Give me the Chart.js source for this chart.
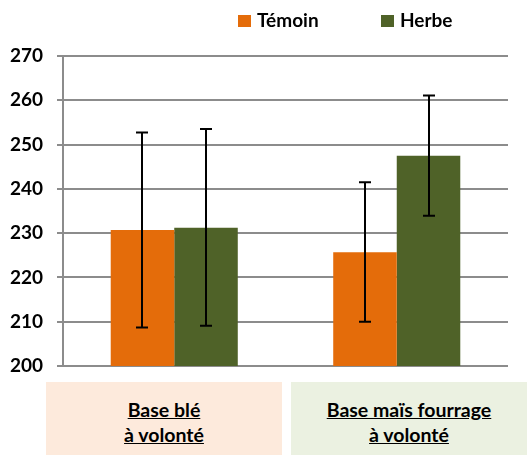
<!DOCTYPE html>
<html>
<head>
<meta charset="utf-8">
<script src="https://cdn.jsdelivr.net/npm/chart.js@4"></script>
<style>
  html, body { margin: 0; padding: 0; background: #fff; }
  #wrap { position: relative; width: 527px; height: 455px; overflow: hidden; }
  .box {
    position: absolute; top: 382px; height: 80px;
    font-family: Lato, sans-serif; font-weight: bold; font-size: 19.5px;
    text-align: center; text-decoration: underline; line-height: 25px;
    padding-top: 15px; box-sizing: border-box; color: #000;
  }
</style>
</head>
<body>
<div id="wrap">
  <canvas id="myChart" width="527" height="455"></canvas>
  <div class="box" id="box0" style="left:46px;width:236px;background:#fdeadc;"></div>
  <div class="box" id="box1" style="left:291px;width:236px;background:#ebf1e1;"></div>
</div>
<script>
const categories = [['Base blé', 'à volonté'], ['Base maïs fourrage', 'à volonté']];
const seriesNames = ['Témoin', 'Herbe'];
const temoin = [230.7, 225.7];
const herbe = [231.2, 247.5];
const temoinLow = [208.7, 210.0];
const temoinHigh = [252.7, 241.5];
const herbeLow = [209.1, 233.9];
const herbeHigh = [253.5, 261.1];
const yTicks = [200, 210, 220, 230, 240, 250, 260, 270];

const colors = ['#e46c0a', '#4f6228'];
const font = { family: 'Lato, sans-serif', weight: 'bold', size: 19 };

categories.forEach((c, i) => {
  document.getElementById('box' + i).innerHTML = c.join('<br>');
});

// error bars, drawn from the low/high arrays
const errorBars = {
  id: 'errorBars',
  afterDatasetsDraw(chart) {
    const ctx = chart.ctx;
    const y = chart.scales.y;
    const lows = [temoinLow, herbeLow];
    const highs = [temoinHigh, herbeHigh];
    ctx.save();
    ctx.strokeStyle = '#000';
    ctx.lineWidth = 2;
    chart.data.datasets.forEach((ds, d) => {
      chart.getDatasetMeta(d).data.forEach((bar, i) => {
        const x = Math.round(bar.x);
        const y1 = y.getPixelForValue(lows[d][i]);
        const y2 = y.getPixelForValue(highs[d][i]);
        ctx.beginPath();
        ctx.moveTo(x, y1); ctx.lineTo(x, y2);
        ctx.moveTo(x - 6, y1); ctx.lineTo(x + 6, y1);
        ctx.moveTo(x - 6, y2); ctx.lineTo(x + 6, y2);
        ctx.stroke();
      });
    });
    ctx.restore();
  }
};

// legend at the top right, as in the original
const topLegend = {
  id: 'topLegend',
  afterDraw(chart) {
    const ctx = chart.ctx;
    const xs = [238, 381];
    ctx.save();
    ctx.font = 'bold 19px Lato, sans-serif';
    ctx.textBaseline = 'middle';
    chart.data.datasets.forEach((ds, d) => {
      ctx.fillStyle = ds.backgroundColor;
      ctx.fillRect(xs[d], 15, 13, 12);
      ctx.fillStyle = '#000';
      ctx.fillText(ds.label, xs[d] + 19, 21);
    });
    ctx.restore();
  }
};

new Chart(document.getElementById('myChart'), {
  type: 'bar',
  data: {
    labels: categories,
    datasets: [
      { label: seriesNames[0], data: temoin, backgroundColor: colors[0] },
      { label: seriesNames[1], data: herbe, backgroundColor: colors[1] }
    ]
  },
  options: {
    responsive: false,
    animation: false,
    layout: { padding: { top: 56, bottom: 89, left: 0, right: 19 } },
    categoryPercentage: 0.571,
    barPercentage: 1,
    plugins: { legend: { display: false }, tooltip: { enabled: false } },
    scales: {
      x: { display: false },
      y: {
        min: 200, max: 270,
        afterFit(scale) { scale.width = 63; },
        afterBuildTicks(scale) { scale.ticks = yTicks.map(v => ({ value: v })); },
        border: { color: '#8c8c8c', width: 2 },
        grid: { color: '#8c8c8c', lineWidth: 2, tickLength: 6 },
        ticks: { color: '#000', font: font, padding: 14 }
      }
    }
  },
  plugins: [errorBars, topLegend]
});
</script>
</body>
</html>
